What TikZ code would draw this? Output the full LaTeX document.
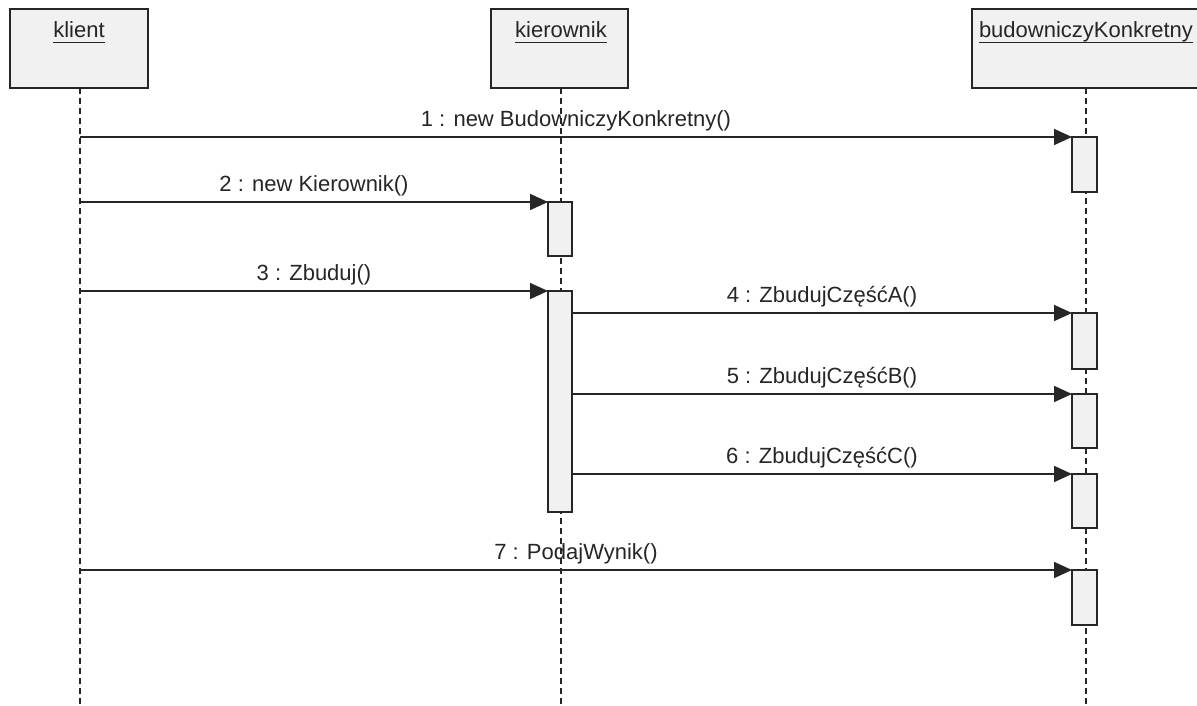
\documentclass[tikz,border=0pt]{standalone}
\usepackage{fontspec}
\setmainfont{Liberation Sans}
\usetikzlibrary{arrows.meta}
\definecolor{boxfill}{HTML}{F1F1F1}
\definecolor{ink}{HTML}{262626}
\begin{document}
\begin{tikzpicture}[x=1pt,y=-1pt,
  font=\fontsize{22}{26}\selectfont,
  objhead/.style={draw=ink, fill=boxfill, line width=1.7pt, anchor=north west,
    inner sep=0pt, outer sep=0pt, minimum height=79pt},
  objname/.style={anchor=base, inner sep=0pt, text=ink},
  lifeline/.style={draw=ink, line width=1.7pt, dash pattern=on 6pt off 4pt},
  actbar/.style={draw=ink, fill=boxfill, line width=1.6pt, anchor=north west,
    inner sep=0pt, outer sep=0pt, minimum width=25pt},
  msg/.style={draw=ink, line width=1.6pt, -{Triangle[length=18pt,width=16pt]}},
  msglabel/.style={midway, above=5pt, inner sep=0pt, text=ink}]

\useasboundingbox (0,0) rectangle (1197,706);
\fill[white] (0,0) rectangle (1197,706);

% object heads
\node[objhead, minimum width=138pt] (klient) at (10,9) {};
\node[objhead, minimum width=137pt] (kier) at (491,9) {};
\node[objhead, minimum width=226pt] (bud) at (972,9) {};

\node[objname] (klientname) at (79,38) {klient};
\node[objname] (kiername) at (561,38) {kierownik};
\node[objname] (budname) at (1086,38) {budowniczyKonkretny};
\foreach \n in {klientname,kiername,budname}
  \draw[ink, line width=1.4pt] ([yshift=-4.5pt]\n.base west) -- ([yshift=-4.5pt]\n.base east);

% lifelines
\coordinate (klientend) at (80,706);
\coordinate (kierend) at (561,706);
\coordinate (budend) at (1086,706);
\draw[lifeline] (klient.south -| klientend) -- (klientend);
\draw[lifeline] (kier.south -| kierend) -- (kierend);
\draw[lifeline] (bud.south -| budend) -- (budend);

% activation bars
\node[actbar, minimum height=55pt]  (b1) at (1072,137) {};
\node[actbar, minimum height=54pt, minimum width=24pt]  (b2) at (548,202) {};
\node[actbar, minimum height=221pt, minimum width=24pt] (b3) at (548,291) {};
\node[actbar, minimum height=56pt]  (b4) at (1072,313) {};
\node[actbar, minimum height=54pt]  (b5) at (1072,394) {};
\node[actbar, minimum height=54pt]  (b6) at (1072,474) {};
\node[actbar, minimum height=55pt]  (b7) at (1072,570) {};

% messages sent by the client
\coordinate (k1) at (80,137);
\coordinate (k2) at (80,202);
\coordinate (k3) at (80,291);
\coordinate (k7) at (80,570);

\draw[msg] (k1) -- (b1.north west) node[msglabel] (m1) {1 : new BudowniczyKonkretny()};
\draw[msg] (k2) -- (b2.north west) node[msglabel] (m2) {2 : new Kierownik()};
\draw[msg] (k3) -- (b3.north west) node[msglabel] (m3) {3 : Zbuduj()};
\draw[msg] (b4.north west -| b3.east) -- (b4.north west) node[msglabel] (m4) {4 : ZbudujCzęśćA()};
\draw[msg] (b5.north west -| b3.east) -- (b5.north west) node[msglabel] (m5) {5 : ZbudujCzęśćB()};
\draw[msg] (b6.north west -| b3.east) -- (b6.north west) node[msglabel] (m6) {6 : ZbudujCzęśćC()};
\draw[msg] (k7) -- (b7.north west) node[msglabel] (m7) {7 : PodajWynik()};
\end{tikzpicture}
\end{document}
